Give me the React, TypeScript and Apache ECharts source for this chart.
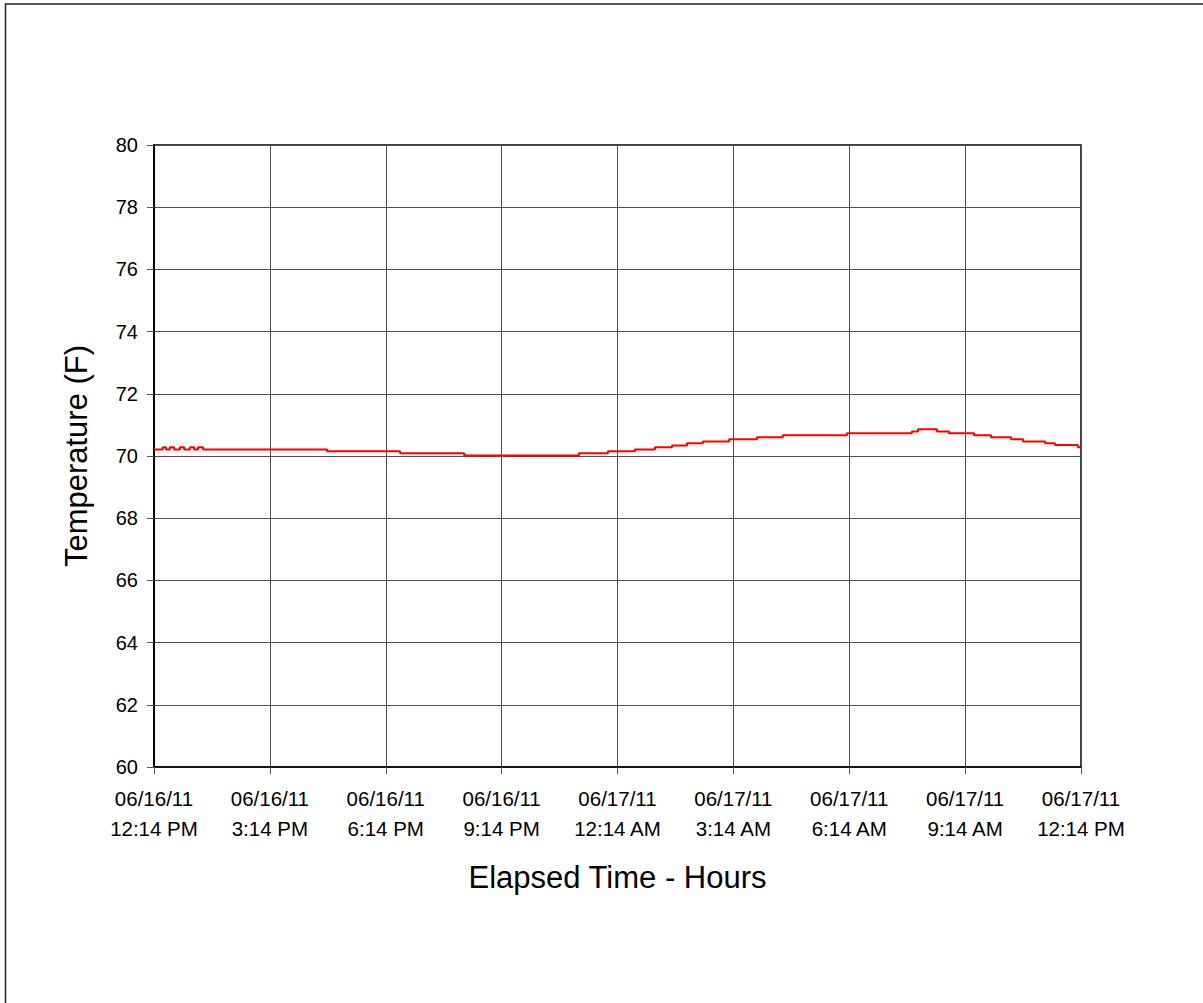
import React, { useEffect, useRef } from "react";
import * as echarts from "echarts";

// Elapsed hours since 06/16/11 12:14 PM at which a new reading level starts
const elapsedHours = [
  0.0, 0.23, 0.31, 0.41, 0.52, 0.67, 0.78, 0.93, 1.04, 1.14, 1.27,
  4.48, 6.37, 8.03, 11.0, 11.75, 12.45, 12.97, 13.41, 13.8, 14.21,
  14.89, 15.61, 16.28, 17.94, 19.62, 19.78, 20.27, 20.58, 21.23, 21.67,
  22.19, 22.5, 23.07, 23.33, 23.92, 24.0,
];
// Temperature (F) from that moment on
const temperatures = [
  70.21, 70.28, 70.21, 70.28, 70.21, 70.28, 70.21, 70.28, 70.21, 70.28, 70.21,
  70.15, 70.09, 70.02, 70.09, 70.15, 70.21, 70.28, 70.34, 70.41, 70.47,
  70.54, 70.6, 70.67, 70.73, 70.79, 70.86, 70.79, 70.73, 70.67, 70.6,
  70.54, 70.47, 70.41, 70.35, 70.28, 70.28,
];

const xTickLabels = [
  "06/16/11\n12:14 PM",
  "06/16/11\n3:14 PM",
  "06/16/11\n6:14 PM",
  "06/16/11\n9:14 PM",
  "06/17/11\n12:14 AM",
  "06/17/11\n3:14 AM",
  "06/17/11\n6:14 AM",
  "06/17/11\n9:14 AM",
  "06/17/11\n12:14 PM",
];
const xMin = 0;
const xMax = 24;
const xStep = 3;
const yMin = 60;
const yMax = 80;
const yStep = 2;

const FONT = "'Liberation Sans', Arial, Helvetica, sans-serif";

export default function App() {
  const ref = useRef<HTMLDivElement>(null);

  useEffect(() => {
    const chart = echarts.init(ref.current!, null, { renderer: "svg" });
    const data = elapsedHours.map((h, i) => [h, temperatures[i]]);
    chart.setOption({
      animation: false,
      backgroundColor: "#ffffff",
      textStyle: { fontFamily: FONT },
      graphic: [
        {
          type: "rect",
          shape: { x: 5.5, y: 4, width: 1220, height: 1020 },
          style: { fill: "none", stroke: "#222222", lineWidth: 1.5 },
          silent: true,
        },
      ],
      grid: {
        left: 154,
        top: 145,
        width: 927,
        height: 622,
        show: true,
        borderColor: "#000000",
        borderWidth: 1.5,
        containLabel: false,
      },
      xAxis: {
        type: "value",
        min: xMin,
        max: xMax,
        interval: xStep,
        name: "Elapsed Time - Hours",
        nameLocation: "middle",
        nameGap: 95,
        nameTextStyle: { fontSize: 31, color: "#000", fontFamily: FONT },
        axisLine: { show: true, onZero: false, lineStyle: { color: "#000", width: 1.5 } },
        axisTick: { show: true, length: 7, lineStyle: { color: "#555", width: 1 } },
        splitLine: { show: true, lineStyle: { color: "#505050", width: 1 } },
        axisLabel: {
          show: true,
          fontSize: 20.5,
          lineHeight: 30,
          margin: 16,
          color: "#000",
          fontFamily: FONT,
          showMinLabel: true,
          showMaxLabel: true,
          formatter: (v: number) => {
            const idx = Math.round((v - xMin) / xStep);
            return xTickLabels[idx] ?? "";
          },
        },
      },
      yAxis: {
        type: "value",
        min: yMin,
        max: yMax,
        interval: yStep,
        name: "Temperature (F)",
        nameLocation: "middle",
        nameGap: 62,
        nameRotate: 90,
        nameTextStyle: { fontSize: 31, color: "#000", fontFamily: FONT },
        axisLine: { show: true, lineStyle: { color: "#000", width: 2 } },
        axisTick: { show: true, length: 7, lineStyle: { color: "#555", width: 1 } },
        splitLine: { show: true, lineStyle: { color: "#505050", width: 1 } },
        axisLabel: {
          fontSize: 20,
          margin: 16,
          color: "#000",
          fontFamily: FONT,
        },
      },
      series: [
        {
          type: "line",
          name: "Temperature",
          data,
          step: "end",
          showSymbol: false,
          symbol: "none",
          lineStyle: { color: "#ff0000", width: 2 },
          itemStyle: { color: "#ff0000" },
        },
      ],
    });
    return () => chart.dispose();
  }, []);

  return (
    <div
      ref={ref}
      style={{ position: "fixed", left: 0, top: 0, width: 1203, height: 1003, background: "#fff" }}
    />
  );
}
